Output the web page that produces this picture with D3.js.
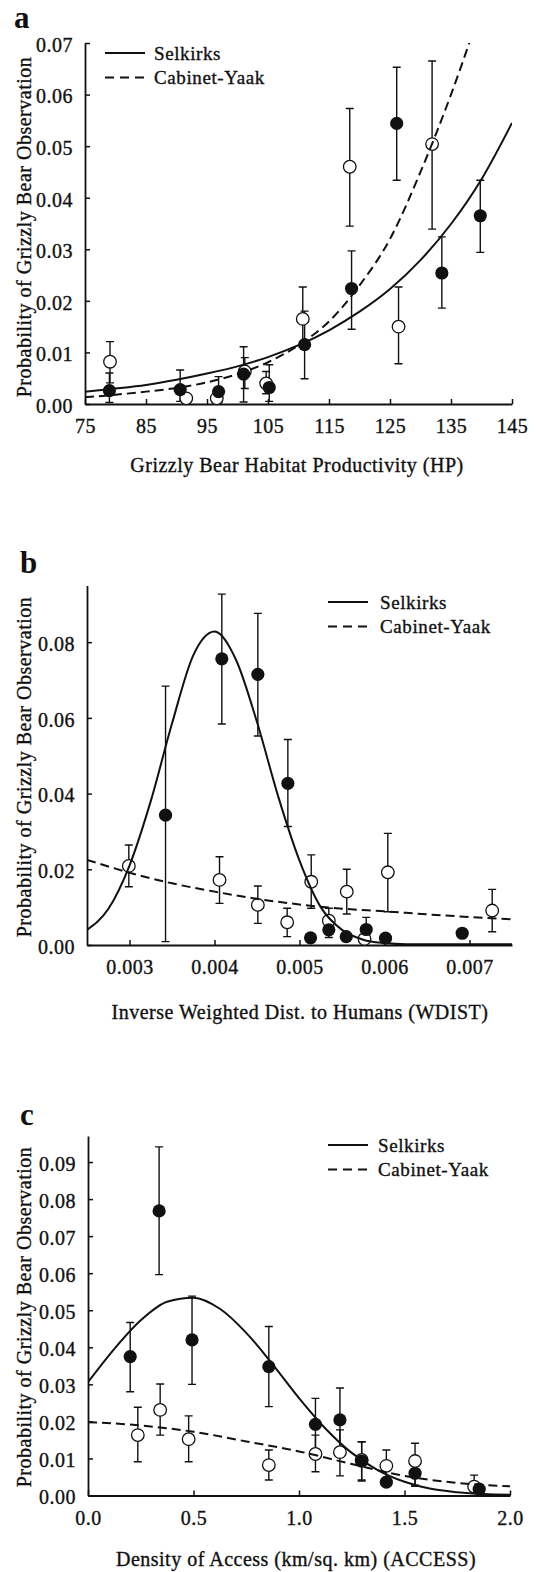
<!DOCTYPE html>
<html>
<head>
<meta charset="utf-8">
<script src="https://cdn.jsdelivr.net/npm/d3@7"></script>
<style>
  body { margin: 0; background: #fff; }
  svg text { font-family: "Liberation Serif", "Times New Roman", serif; fill: #111; stroke: #111; stroke-width: 0.35px; }
  .tick text { font-size: 20px; letter-spacing: 0.5px; }
  .axis-title { font-size: 20px; letter-spacing: 0.5px; }
  .legend text { font-size: 19px; letter-spacing: 0.6px; }
  .panel-label { font-size: 31px; font-weight: bold; stroke-width: 0; }
</style>
</head>
<body>
<div id="chart"></div>
<script>
// ---- panel a : habitat productivity (HP) ----
const hpXTicks = [75, 85, 95, 105, 115, 125, 135, 145];
const hpYTicks = [0, 0.01, 0.02, 0.03, 0.04, 0.05, 0.06, 0.07];
// [x, mean, lower, upper]
const hpSelkirks = [
  [79.0, 0.0026, 0.0003, 0.0060], [90.6, 0.0028, 0.0005, 0.0066], [96.9, 0.0024, 0.0003, 0.0053],
  [101.0, 0.0058, 0.0004, 0.0111], [105.2, 0.0032, 0.0005, 0.0076], [111.0, 0.0115, 0.0049, 0.0180],
  [118.7, 0.0224, 0.0145, 0.0297], [126.1, 0.0544, 0.0434, 0.0653], [133.5, 0.0254, 0.0186, 0.0324],
  [139.8, 0.0365, 0.0294, 0.0434]
];
const hpCabinet = [
  [79.1, 0.0082, 0.0041, 0.0121], [91.6, 0.0011, 0.0011, 0.0011], [96.6, 0.0011, 0.0011, 0.0011],
  [101.2, 0.0063, 0.0030, 0.0090], [104.7, 0.0040, 0.0020, 0.0063], [110.7, 0.0165, 0.0110, 0.0227],
  [118.4, 0.0460, 0.0345, 0.0573], [126.4, 0.0150, 0.0078, 0.0227], [131.9, 0.0504, 0.0339, 0.0665]
];
const hpSelkirksFit = [
  [75, 0.0024], [80, 0.0030], [85, 0.0037], [90, 0.0047], [95, 0.0059], [100, 0.0073], [105, 0.0091],
  [110, 0.0114], [115, 0.0143], [120, 0.0179], [125, 0.0223], [130, 0.0279], [135, 0.0349],
  [140, 0.0436], [145, 0.0545]
];
const hpCabinetFit = [
  [75, 0.0013], [80, 0.0018], [85, 0.0024], [90, 0.0031], [95, 0.0042], [100, 0.0058], [105, 0.0081],
  [110, 0.0114], [115, 0.0160], [120, 0.0230], [125, 0.0320], [130, 0.0450], [135, 0.0600], [138, 0.0700]
];

// ---- panel b : inverse weighted distance to humans (WDIST) ----
const wdXTicks = [0.003, 0.004, 0.005, 0.006, 0.007];
const wdYTicks = [0, 0.02, 0.04, 0.06, 0.08];
const wdSelkirks = [
  [0.003424, 0.0343, 0.0009, 0.0684], [0.004086, 0.0756, 0.0584, 0.0927], [0.004510, 0.0715, 0.0552, 0.0876],
  [0.004863, 0.0427, 0.0313, 0.0543], [0.005130, 0.0019, 0.0019, 0.0019], [0.005345, 0.0040, 0.0020, 0.0060],
  [0.005550, 0.0022, 0.0022, 0.0022], [0.005785, 0.0041, 0.0015, 0.0073], [0.006012, 0.0018, 0.0018, 0.0018],
  [0.006914, 0.0031, 0.0031, 0.0031]
];
const wdCabinet = [
  [0.002992, 0.0209, 0.0154, 0.0264], [0.004059, 0.0172, 0.0110, 0.0233], [0.004510, 0.0106, 0.0057, 0.0156],
  [0.004855, 0.0060, 0.0022, 0.0097], [0.005138, 0.0167, 0.0097, 0.0238], [0.005345, 0.0064, 0.0030, 0.0097],
  [0.005556, 0.0141, 0.0082, 0.0200], [0.005765, 0.0016, 0.0016, 0.0016], [0.006039, 0.0192, 0.0088, 0.0295],
  [0.007267, 0.0091, 0.0035, 0.0147]
];
const wdSelkirksFit = [
  [0.00250, 0.0040], [0.00275, 0.0095], [0.00300, 0.0210], [0.00325, 0.0380], [0.00350, 0.0585],
  [0.00375, 0.0765], [0.00400, 0.0828], [0.00425, 0.0755], [0.00450, 0.0589], [0.00475, 0.0392],
  [0.00500, 0.0223], [0.00525, 0.0100], [0.00550, 0.0040], [0.00575, 0.0014], [0.00600, 0.0005],
  [0.00625, 0.0002], [0.00650, 0.0002], [0.00700, 0.0002], [0.00750, 0.0002]
];
const wdCabinetFit = [
  [0.0025, 0.0225], [0.0030, 0.0191], [0.0035, 0.0163], [0.0040, 0.0141], [0.0045, 0.0122],
  [0.0050, 0.0107], [0.0055, 0.0096], [0.0060, 0.0089], [0.0065, 0.0081], [0.0070, 0.0074], [0.0075, 0.0068]
];

// ---- panel c : density of access (ACCESS) ----
const acXTicks = [0, 0.5, 1.0, 1.5, 2.0];
const acYTicks = [0, 0.01, 0.02, 0.03, 0.04, 0.05, 0.06, 0.07, 0.08, 0.09];
const acSelkirks = [
  [0.200, 0.0375, 0.0280, 0.0467], [0.337, 0.0768, 0.0596, 0.0941], [0.493, 0.0420, 0.0300, 0.0538],
  [0.857, 0.0348, 0.0240, 0.0456], [1.078, 0.0192, 0.0125, 0.0262], [1.194, 0.0204, 0.0120, 0.0290],
  [1.297, 0.0093, 0.0042, 0.0145], [1.414, 0.0036, 0.0036, 0.0036], [1.550, 0.0060, 0.0028, 0.0093],
  [1.854, 0.0017, 0.0017, 0.0017]
];
const acCabinet = [
  [0.236, 0.0163, 0.0091, 0.0238], [0.342, 0.0231, 0.0163, 0.0301], [0.477, 0.0152, 0.0091, 0.0215],
  [0.857, 0.0082, 0.0042, 0.0123], [1.078, 0.0112, 0.0064, 0.0163], [1.194, 0.0117, 0.0053, 0.0177],
  [1.297, 0.0096, 0.0039, 0.0145], [1.414, 0.0080, 0.0040, 0.0123], [1.550, 0.0093, 0.0025, 0.0141],
  [1.830, 0.0024, 0.0024, 0.0055]
];
const acSelkirksFit = [
  [0, 0.0306], [0.125, 0.0396], [0.25, 0.0473], [0.375, 0.0523], [0.5, 0.0534], [0.625, 0.0504],
  [0.75, 0.0439], [0.875, 0.0354], [1.0, 0.0263], [1.125, 0.0181], [1.25, 0.0115], [1.375, 0.0068],
  [1.5, 0.0037], [1.625, 0.0018], [1.75, 0.0009], [1.875, 0.0004], [2.0, 0.0002]
];
const acCabinetFit = [
  [0, 0.0198], [0.25, 0.0189], [0.5, 0.0172], [0.75, 0.0146], [1.0, 0.0119], [1.25, 0.0085],
  [1.5, 0.0053], [1.75, 0.0034], [2.0, 0.0025]
];

const seriesNames = ["Selkirks", "Cabinet-Yaak"];
const yTitle = "Probability of Grizzly Bear Observation";

const width = 536, height = 1572;

const svg = d3.select("#chart").append("svg")
  .attr("width", width)
  .attr("height", height)
  .style("display", "block");

svg.append("rect").attr("width", width).attr("height", height).attr("fill", "#fff");

const panels = [
  {
    id: "a", label: "a", labelX: 14, labelY: 28,
    x: d3.scaleLinear().domain([75, 145]).range([85, 512]),
    y: d3.scaleLinear().domain([0, 0.07]).range([404, 43]),
    xTicks: hpXTicks, yTicks: hpYTicks, xFmt: d3.format("d"), yFmt: d3.format(".2f"),
    selk: hpSelkirks, cab: hpCabinet, selkFit: hpSelkirksFit, cabFit: hpCabinetFit,
    xTitle: "Grizzly Bear Habitat Productivity (HP)", xTitleX: 297, xTitleY: 472, yTitleY: 227,
    legend: { x1: 105, x2: 145, y: 53, tx: 154 }
  },
  {
    id: "b", label: "b", labelX: 20, labelY: 573,
    x: d3.scaleLinear().domain([0.0025, 0.0075]).range([87, 512]),
    y: d3.scaleLinear().domain([0, 0.095]).range([945, 585.4]),
    xTicks: wdXTicks, yTicks: wdYTicks, xFmt: d3.format(".3f"), yFmt: d3.format(".2f"),
    selk: wdSelkirks, cab: wdCabinet, selkFit: wdSelkirksFit, cabFit: wdCabinetFit,
    xTitle: "Inverse Weighted Dist. to Humans (WDIST)", xTitleX: 300, xTitleY: 1019, yTitleY: 767,
    legend: { x1: 328, x2: 368, y: 602, tx: 380 }
  },
  {
    id: "c", label: "c", labelX: 20, labelY: 1125,
    x: d3.scaleLinear().domain([0, 2]).range([88, 510]),
    y: d3.scaleLinear().domain([0, 0.097]).range([1495.5, 1136.1]),
    xTicks: acXTicks, yTicks: acYTicks, xFmt: d3.format(".1f"), yFmt: d3.format(".2f"),
    selk: acSelkirks, cab: acCabinet, selkFit: acSelkirksFit, cabFit: acCabinetFit,
    xTitle: "Density of Access (km/sq. km) (ACCESS)", xTitleX: 296, xTitleY: 1566, yTitleY: 1317,
    legend: { x1: 328, x2: 368, y: 1145, tx: 378 }
  }
];

function drawPanel(p) {
  const g = svg.append("g").attr("class", "panel-" + p.id);
  const [x0, x1] = p.x.range();
  const [yb, yt] = p.y.range();

  g.append("clipPath").attr("id", "clip-" + p.id)
    .append("rect")
    .attr("x", x0).attr("y", yt)
    .attr("width", x1 - x0).attr("height", yb - yt);

  // axes, ticks pointing inward
  const xAxis = g.append("g")
    .attr("transform", `translate(0,${yb})`)
    .call(d3.axisBottom(p.x).tickValues(p.xTicks).tickFormat(p.xFmt)
      .tickSize(-5).tickSizeOuter(0).tickPadding(15));
  const yAxis = g.append("g")
    .attr("transform", `translate(${x0},0)`)
    .call(d3.axisLeft(p.y).tickValues(p.yTicks).tickFormat(p.yFmt)
      .tickSize(-5).tickSizeOuter(0).tickPadding(12));
  [xAxis, yAxis].forEach(a => {
    a.select(".domain").attr("stroke", "#111").attr("stroke-width", 1.8);
    a.selectAll(".tick line").attr("stroke", "#111").attr("stroke-width", 1.5);
    a.attr("font-family", null).attr("font-size", null);
  });
  yAxis.selectAll(".tick text").attr("dy", "0.42em");

  // titles
  g.append("text")
    .attr("class", "panel-label")
    .attr("x", p.labelX).attr("y", p.labelY)
    .text(p.label);

  g.append("text")
    .attr("class", "axis-title")
    .attr("x", p.xTitleX).attr("y", p.xTitleY)
    .attr("text-anchor", "middle")
    .text(p.xTitle);

  g.append("text")
    .attr("class", "axis-title")
    .attr("transform", `translate(31,${p.yTitleY}) rotate(-90)`)
    .attr("text-anchor", "middle")
    .text(yTitle);

  // error bars
  const all = p.selk.concat(p.cab).filter(d => d[3] - d[2] > 0.0004);
  const bars = g.append("g").attr("stroke", "#111").attr("stroke-width", 1.4).attr("fill", "none");
  bars.selectAll("path")
    .data(all)
    .enter().append("path")
    .attr("d", d => {
      const cx = p.x(d[0]), lo = p.y(d[2]), hi = p.y(d[3]);
      return `M${cx},${lo}V${hi}M${cx - 4},${hi}H${cx + 4}M${cx - 4},${lo}H${cx + 4}`;
    });

  // open circles (Cabinet-Yaak)
  g.append("g").selectAll("circle")
    .data(p.cab)
    .enter().append("circle")
    .attr("cx", d => p.x(d[0]))
    .attr("cy", d => p.y(d[1]))
    .attr("r", 6.3)
    .attr("fill", "#fff")
    .attr("stroke", "#111")
    .attr("stroke-width", 1.3);

  // fitted curves
  const line = d3.line()
    .x(d => p.x(d[0]))
    .y(d => p.y(d[1]))
    .curve(d3.curveMonotoneX);

  const curves = g.append("g").attr("clip-path", `url(#clip-${p.id})`);
  curves.append("path")
    .datum(p.selkFit)
    .attr("d", line)
    .attr("fill", "none")
    .attr("stroke", "#111")
    .attr("stroke-width", 2);
  curves.append("path")
    .datum(p.cabFit)
    .attr("d", line)
    .attr("fill", "none")
    .attr("stroke", "#111")
    .attr("stroke-width", 2)
    .attr("stroke-dasharray", "9,5");

  // filled circles (Selkirks)
  g.append("g").selectAll("circle")
    .data(p.selk)
    .enter().append("circle")
    .attr("cx", d => p.x(d[0]))
    .attr("cy", d => p.y(d[1]))
    .attr("r", 6.6)
    .attr("fill", "#111");

  // legend
  const lg = g.append("g").attr("class", "legend");
  seriesNames.forEach((name, i) => {
    const ly = p.legend.y + i * 24.5;
    lg.append("line")
      .attr("x1", p.legend.x1).attr("x2", p.legend.x2)
      .attr("y1", ly).attr("y2", ly)
      .attr("stroke", "#111")
      .attr("stroke-width", 2)
      .attr("stroke-dasharray", i === 1 ? "9,6" : null);
    lg.append("text")
      .attr("x", p.legend.tx).attr("y", ly + 6.5)
      .text(name);
  });
}

panels.forEach(drawPanel);
</script>
</body>
</html>
